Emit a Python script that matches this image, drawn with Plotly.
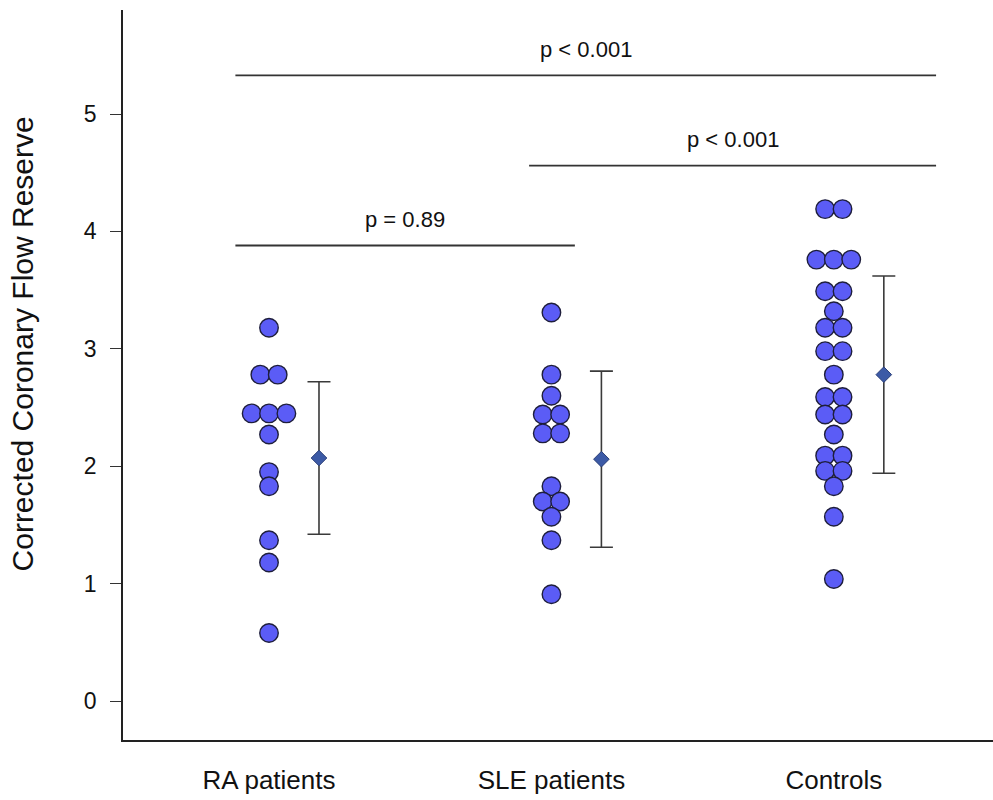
import plotly.graph_objects as go
from collections import Counter

# ---------------- data ----------------
categories = ["RA patients", "SLE patients", "Controls"]

ra_values = [3.18, 2.78, 2.78, 2.45, 2.45, 2.45, 2.27, 1.95, 1.83, 1.37, 1.18, 0.58]
sle_values = [3.31, 2.78, 2.60, 2.44, 2.44, 2.28, 2.28, 1.83, 1.70, 1.70, 1.57, 1.37, 0.91]
control_values = [4.19, 4.19, 3.76, 3.76, 3.76, 3.49, 3.49, 3.32, 3.18, 3.18,
                  2.98, 2.98, 2.78, 2.59, 2.59, 2.44, 2.44, 2.27, 2.09, 2.09,
                  1.96, 1.96, 1.83, 1.57, 1.04]

group_means = [2.07, 2.06, 2.78]
group_sds = [0.65, 0.75, 0.84]

p_labels = ["p < 0.001", "p < 0.001", "p = 0.89"]
p_heights = [5.33, 4.56, 3.88]

tick_values = [0, 1, 2, 3, 4, 5]

# ---------------- layout helpers ----------------
DOT_STEP = 0.0616      # horizontal spacing of tied dots (category units)
MEAN_OFFSET = 0.177    # mean/SD marker offset to the right of the dots
bracket_spans = [(-0.119, 2.362), (0.921, 2.362), (-0.119, 1.083)]

def swarm_x(values, center):
    counts = Counter(values)
    seen = Counter()
    xs = []
    for v in values:
        n = counts[v]
        i = seen[v]
        seen[v] += 1
        xs.append(center + (i - (n - 1) / 2) * DOT_STEP)
    return xs

fig = go.Figure()

DOT_FILL = "#5b5cf6"
DOT_LINE = "#1e1e3c"

all_groups = [ra_values, sle_values, control_values]
for gi, vals in enumerate(all_groups):
    fig.add_trace(go.Scatter(
        x=swarm_x(vals, gi), y=vals, mode="markers",
        marker=dict(symbol="circle", size=18.5, color=DOT_FILL,
                    line=dict(color=DOT_LINE, width=1.4)),
        showlegend=False, hoverinfo="y"))

fig.add_trace(go.Scatter(
    x=[i + MEAN_OFFSET for i in range(len(categories))], y=group_means,
    mode="markers",
    marker=dict(symbol="diamond", size=12, color="#3c5aa6",
                line=dict(color="#2b3f78", width=1)),
    error_y=dict(type="data", array=group_sds, visible=True,
                 color="#3a3a3a", thickness=1.6, width=11.5),
    showlegend=False, hoverinfo="y"))

shapes = []
annotations = []
for (x0, x1), h, lab in zip(bracket_spans, p_heights, p_labels):
    shapes.append(dict(type="line", xref="x", yref="y", x0=x0, x1=x1, y0=h, y1=h,
                       line=dict(color="#333333", width=1.8)))
    annotations.append(dict(x=(x0 + x1) / 2, y=h, xref="x", yref="y",
                            text=lab, showarrow=False, yanchor="middle",
                            yshift=26, font=dict(size=22, color="#111111")))

annotations.append(dict(x=-0.1161, y=0.5432, xref="paper", yref="paper",
                        text="Corrected Coronary Flow Reserve", textangle=-90,
                        showarrow=False, xanchor="center", yanchor="middle",
                        font=dict(size=30, color="#111111")))

fig.update_layout(
    width=993, height=800,
    margin=dict(l=123, r=0, t=10, b=60),
    paper_bgcolor="white", plot_bgcolor="white",
    font=dict(family="Liberation Sans, Arial, sans-serif", color="#111111"),
    shapes=shapes, annotations=annotations,
    xaxis=dict(range=[-0.517, 2.5636], tickvals=list(range(len(categories))),
               ticktext=categories, ticks="", showgrid=False, zeroline=False,
               showline=True, linecolor="#222222", linewidth=1.6,
               tickfont=dict(size=26), ticklabelstandoff=16),
    yaxis=dict(range=[-0.332, 5.886], tickvals=tick_values, ticks="outside",
               ticklen=11, tickwidth=1.4, tickcolor="#333333",
               showgrid=False, zeroline=False, showline=True,
               linecolor="#222222", linewidth=1.6,
               tickfont=dict(size=23), ticklabelstandoff=9),
)

fig.write_html("out.html",
               config={"displayModeBar": False},
               post_script="document.body.style.margin='0';document.body.style.overflow='hidden';")
